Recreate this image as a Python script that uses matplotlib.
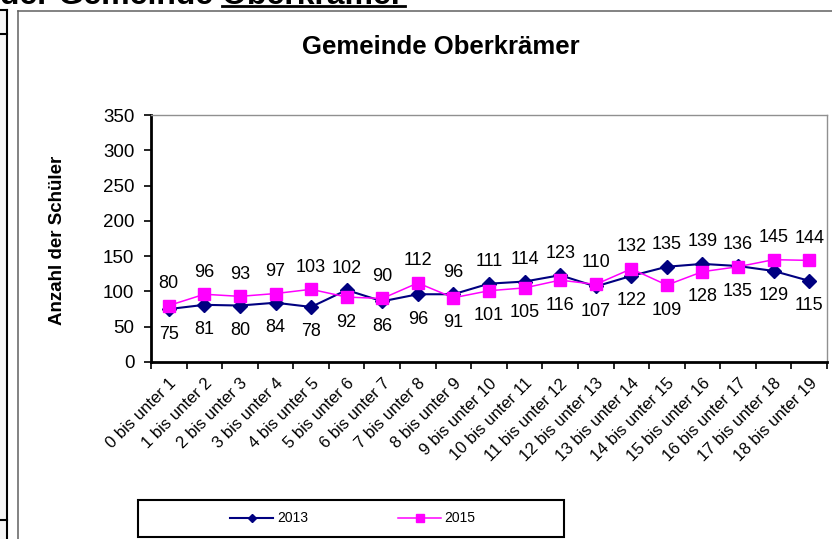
import numpy as np
import matplotlib.pyplot as plt
from matplotlib.lines import Line2D
from matplotlib.patches import Rectangle

plt.rcParams['font.family'] = ['Liberation Sans', 'DejaVu Sans']

kategorien = [f"{i} bis unter {i+1}" for i in range(19)]
werte_2013 = [75, 81, 80, 84, 78, 102, 86, 96, 96, 111, 114, 123, 107, 122, 135, 139, 136, 129, 115]
werte_2015 = [80, 96, 93, 97, 103, 92, 90, 112, 91, 101, 105, 116, 110, 132, 109, 128, 135, 145, 144]
y_ticks = [0, 50, 100, 150, 200, 250, 300, 350]

W, H = 832, 539
fig = plt.figure(figsize=(W/100, H/100), dpi=100)

def fx(x):
    return x / W

def fy(y):
    return 1 - y / H

# plot area in pixels: x 151..827, y 115..362
ax = fig.add_axes([fx(151), fy(362), (827-151)/W, (362-115)/H])

x = np.arange(len(kategorien))
ax.plot(x, werte_2013, color='#000080', lw=1.5, marker='D', ms=7.5, label='2013')
ax.plot(x, werte_2015, color='#FF00FF', lw=1.1, marker='s', ms=8.5, label='2015')

for i in range(len(x)):
    a, b = werte_2013[i], werte_2015[i]
    hi, lo = max(a, b), min(a, b)
    ax.annotate(str(hi), (i, hi), textcoords='offset pixels', xytext=(0, 22),
                ha='center', va='center', fontsize=13)
    ax.annotate(str(lo), (i, lo), textcoords='offset pixels', xytext=(0, -25),
                ha='center', va='center', fontsize=13)

ax.set_xlim(-0.5, len(x) - 0.5)
ax.set_ylim(0, 350)
ax.set_yticks(y_ticks)
ax.tick_params(axis='y', direction='out', length=5, width=1.2, pad=7, labelsize=13.5)
ax.set_xticks(x)
ax.set_xticklabels(kategorien, rotation=45, ha='right', va='top',
                   rotation_mode='anchor', fontsize=12)
ax.tick_params(axis='x', which='major', length=0, pad=10)
ax.set_xticks(np.arange(-0.5, len(x)), minor=True)
ax.tick_params(axis='x', which='minor', direction='out', length=5, width=1.2)

for s in ['left', 'bottom']:
    ax.spines[s].set_color('black')
    ax.spines[s].set_linewidth(2)
for s in ['top', 'right']:
    ax.spines[s].set_color('#909090')
    ax.spines[s].set_linewidth(1)

fig.text(fx(441), fy(47), 'Gemeinde Oberkrämer', ha='center', va='center',
         fontsize=18.5, fontweight='bold')
fig.text(fx(58), fy(240), 'Anzahl der Schüler', ha='center', va='center',
         rotation=90, fontsize=13.5, fontweight='bold')

# legend box
fig.add_artist(Rectangle((fx(138), fy(537)), (564-138)/W, (537-500)/H,
                         transform=fig.transFigure, fill=False, ec='black', lw=1.5))
fig.legend(loc='center', bbox_to_anchor=(fx(353), fy(518.5)), ncol=2, frameon=False,
           fontsize=10, handlelength=3.1, columnspacing=6.5, handletextpad=0.25,
           markerscale=0.6)

# surrounding page bits
fig.text(0, fy(4), 'der Gemeinde Oberkrämer', ha='left', va='baseline',
         fontsize=23, fontweight='bold')
fig.add_artist(Line2D([fx(222), fx(405)], [fy(6), fy(6)], color='black', lw=2,
                      transform=fig.transFigure))
fig.add_artist(Rectangle((0, 0), fx(7), fy(10), transform=fig.transFigure,
                         fc='#f6f6f6', ec='none'))
fig.add_artist(Line2D([fx(7), fx(7)], [0, fy(10)], color='black', lw=1.5,
                      transform=fig.transFigure))
for yy in [10, 34, 520]:
    fig.add_artist(Line2D([0, fx(7)], [fy(yy), fy(yy)], color='black', lw=1.5,
                          transform=fig.transFigure))
fig.add_artist(Line2D([fx(18), fx(18)], [0, fy(11)], color='#606060', lw=1.1,
                      transform=fig.transFigure))
fig.add_artist(Line2D([fx(18), 1], [fy(11), fy(11)], color='#606060', lw=1.1,
                      transform=fig.transFigure))

fig.savefig('out.png', dpi=100)
